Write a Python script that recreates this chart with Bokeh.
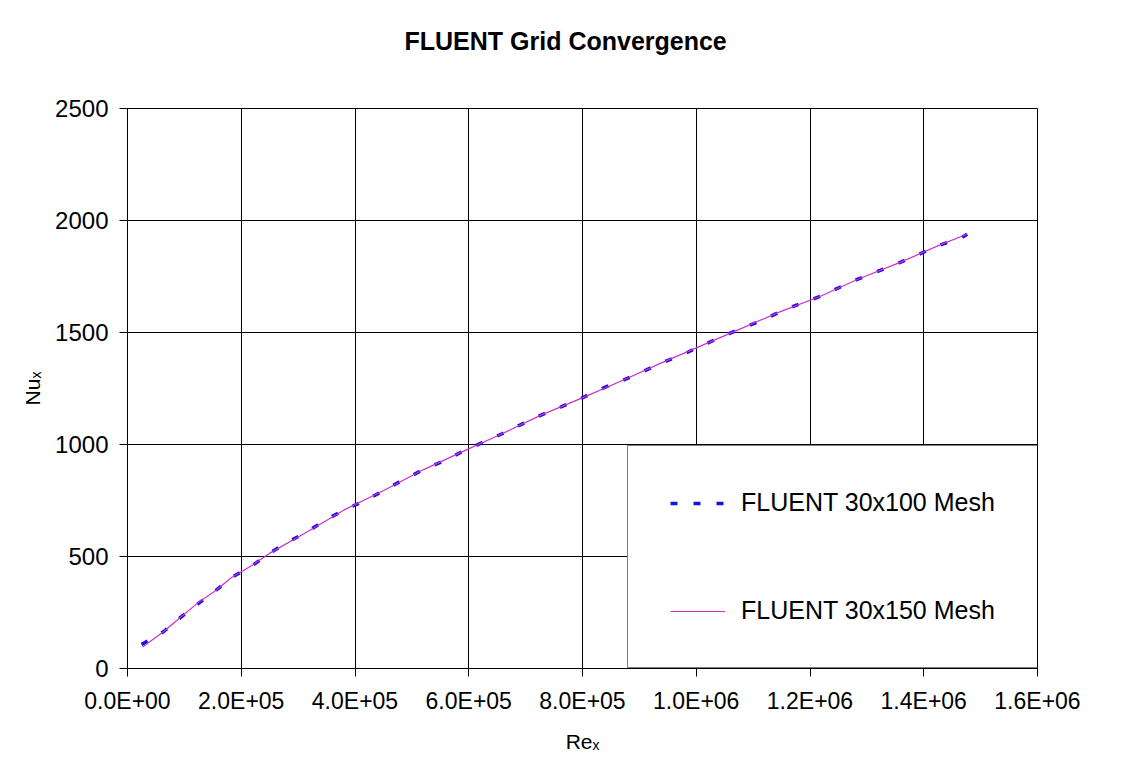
from bokeh.plotting import figure
from bokeh.models import FixedTicker, Range1d, Legend, LegendItem, Title
from bokeh.embed import file_html
from bokeh.resources import INLINE

title_text = "FLUENT Grid Convergence"
x_label = "Reₓ"
y_label = "Nuₓ"
series_names = ["FLUENT 30x100 Mesh", "FLUENT 30x150 Mesh"]

x_ticks = [0, 200000, 400000, 600000, 800000, 1000000, 1200000, 1400000, 1600000]
x_tick_labels = ["0.0E+00", "2.0E+05", "4.0E+05", "6.0E+05", "8.0E+05",
                 "1.0E+06", "1.2E+06", "1.4E+06", "1.6E+06"]
y_ticks = [0, 500, 1000, 1500, 2000, 2500]
y_tick_labels = ["0", "500", "1000", "1500", "2000", "2500"]

re_100 = [24600, 62600, 90800, 123100, 154100, 181700, 218600, 250300, 280200,
          317700, 348800, 381000, 419200, 451400, 483700, 520700, 555100, 588000,
          622700, 659600, 691800, 727000, 765200, 798600, 831300, 871200, 904100,
          936900, 974500, 1007200, 1042400, 1077600, 1114000, 1146900, 1180300,
          1219500, 1251700, 1284100, 1323300, 1358500, 1392400, 1427600, 1465800,
          1476300]
nu_100 = [107, 163, 223, 287, 346, 404, 458, 515, 562, 613, 663, 708, 751, 796,
          841, 888, 925, 967, 1007, 1049, 1089, 1131, 1171, 1207, 1247, 1287, 1323,
          1362, 1399, 1439, 1478, 1516, 1552, 1592, 1626, 1663, 1701, 1738, 1777,
          1813, 1850, 1890, 1922, 1939]

re_150 = [26400, 62600, 90800, 123100, 154100, 181700, 218600, 250300, 317700,
          381000, 451400, 520700, 588000, 659600, 727000, 798600, 871200, 936900,
          1007200, 1077600, 1146900, 1219500, 1284100, 1358500, 1427600, 1477000]
nu_150 = [96, 163, 223, 292, 346, 404, 460, 515, 613, 708, 796, 888, 967, 1049,
          1131, 1207, 1287, 1362, 1439, 1516, 1592, 1663, 1738, 1813, 1890, 1940]

FONT = "Liberation Sans"

p = figure(width=1112, height=755, output_backend="svg", toolbar_location=None,
           title=None,
           x_range=Range1d(0, 1600000), y_range=Range1d(0, 2500),
           min_border_left=127, min_border_right=75, min_border_top=108,
           min_border_bottom=87, background_fill_color="white",
           border_fill_color="white")

# empty spacer panel between the frame and the title
p.add_layout(Title(text=" ", text_font=FONT, text_font_size="10px", standoff=36), "above")
# the chart title, centred over the whole chart
p.add_layout(Title(text=title_text, align="left", offset=277, standoff=10,
                   text_font=FONT, text_font_size="25px", text_font_style="bold",
                   text_color="black"), "above")

p.outline_line_color = "black"
p.outline_line_width = 1

for ax, ticks, labels, fs in ((p.xaxis[0], x_ticks, x_tick_labels, "23px"),
                              (p.yaxis[0], y_ticks, y_tick_labels, "24px")):
    ax.ticker = FixedTicker(ticks=ticks)
    ax.major_label_overrides = dict(zip(ticks, labels))
    ax.axis_line_color = "black"
    ax.major_tick_line_color = "black"
    ax.major_tick_out = 8
    ax.major_tick_in = 0
    ax.minor_tick_out = 0
    ax.minor_tick_in = 0
    ax.major_label_text_font = FONT
    ax.major_label_text_font_size = fs
    ax.major_label_text_color = "black"
    ax.major_label_standoff = 11
    ax.axis_label_text_font = FONT
    ax.axis_label_text_font_size = "21px"
    ax.axis_label_text_font_style = "normal"
    ax.axis_label_text_color = "black"

p.xaxis.axis_label = x_label
p.yaxis.axis_label = y_label
p.xaxis.axis_label_standoff = 13
p.yaxis.axis_label_standoff = 8

p.xgrid.ticker = FixedTicker(ticks=x_ticks)
p.ygrid.ticker = FixedTicker(ticks=y_ticks)
for g in (p.xgrid[0], p.ygrid[0]):
    g.grid_line_color = "black"
    g.grid_line_alpha = 1
    g.grid_line_width = 1

r1 = p.line(re_100, nu_100, line_color="#1414e0", line_width=3.5, line_dash="7 16")
r2 = p.line(re_150, nu_150, line_color="#cc30cc", line_width=1.2)

legend = Legend(items=[LegendItem(label=series_names[0], renderers=[r1]),
                       LegendItem(label=series_names[1], renderers=[r2])],
                location=(500, 0), padding=42, spacing=79, label_height=20,
                label_width=262, glyph_height=20, glyph_width=55,
                label_standoff=16, margin=0,
                label_text_font=FONT, label_text_font_size="25px",
                label_text_color="black", border_line_color="black",
                border_line_width=1.5, background_fill_color="white",
                background_fill_alpha=1)
p.add_layout(legend)

open("out.html", "w").write(file_html(p, INLINE))
